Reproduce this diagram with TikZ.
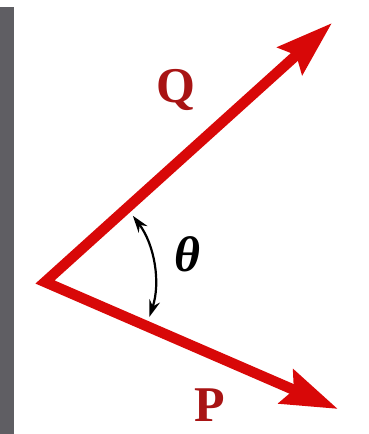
\documentclass[tikz,border=0pt]{standalone}
\usepackage{fontspec}
\setmainfont{Liberation Serif}
\usetikzlibrary{arrows.meta}
\definecolor{vecred}{HTML}{D80808}
\definecolor{labred}{HTML}{A81414}
\definecolor{bargray}{HTML}{5F5E63}

\begin{document}
\begin{tikzpicture}[x=1pt,y=1pt,
  every node/.style={font=\fontsize{50}{56}\selectfont\bfseries,inner sep=0pt},
  vectors/.style={vecred,line width=10.5pt,line join=miter,
    {Stealth[length=56pt,width=36pt,inset=8pt]}-{Stealth[length=56pt,width=36pt,inset=8pt]}},
  anglemark/.style={black,line width=2.2pt,
    {Stealth[length=17pt,width=11pt]}-{Stealth[length=17pt,width=11pt]}}]
  \useasboundingbox (0,0) rectangle (368,434);
  \fill[bargray] (0,0) rectangle (14,427);
  \coordinate (O) at (45,152);
  \coordinate (Qtip) at (332,411);
  \coordinate (Ptip) at (338,25);
  % Q and P share the tail point
  \draw[vectors] (Qtip) -- (O) -- (Ptip);
  \draw[anglemark] ([shift={(37:110)}]O) arc (37:-18.6:110);
  \node[labred] (Qlabel) at (176,344) {Q};
  \node[labred] (Plabel) at (210,29) {P};
  \node (theta) at (187,180) {\itshape θ};
\end{tikzpicture}
\end{document}
